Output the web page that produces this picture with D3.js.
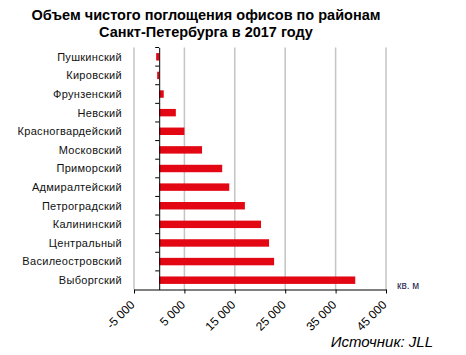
<!DOCTYPE html>
<html><head><meta charset="utf-8">
<script src="https://cdn.jsdelivr.net/npm/d3@7"></script>
<style>body{margin:0;background:#fff;} svg{display:block;font-family:"Liberation Sans",Arial,sans-serif;}</style>
</head><body>
<svg id="c" width="466" height="355"></svg>
<script>
const categories = ["Пушкинский","Кировский","Фрунзенский","Невский","Красногвардейский","Московский","Приморский","Адмиралтейский","Петроградский","Калининский","Центральный","Василеостровский","Выборгский"];
const values = [-600,-400,900,3300,5000,8500,12500,13900,17000,20200,21800,22800,38900];
const tickValues = [-5000,5000,15000,25000,35000,45000];
const titleLines = ["Объем чистого поглощения офисов по районам","Санкт-Петербурга в 2017 году"];
const unitLabel = "кв. м";
const sourceLabel = "Источник: JLL";

const svg = d3.select("#c");
const x = d3.scaleLinear().domain([-5000,45000]).range([134,386]);
const y = d3.scaleBand().domain(categories).range([47.5,289.5]).paddingInner(0.6).paddingOuter(0.3);
const fmt = d => d3.format(",")(d).replace(/,/g," ").replace("−","-");

// gridlines
svg.append("g").selectAll("line").data(tickValues).join("line")
  .attr("x1",d=>x(d)).attr("x2",d=>x(d)).attr("y1",47.5).attr("y2",289.5)
  .attr("stroke","#c4c4c4").attr("stroke-width",1.5);

// bars
svg.append("g").selectAll("rect").data(categories).join("rect")
  .attr("x",(d,i)=>Math.min(x(0),x(values[i])))
  .attr("width",(d,i)=>Math.abs(x(values[i])-x(0)))
  .attr("y",d=>y(d)).attr("height",y.bandwidth())
  .attr("fill","#e30613");

// x axis
const xa = svg.append("g").attr("transform","translate(0,289.5)")
  .call(d3.axisBottom(x).tickValues(tickValues).tickSize(4).tickSizeOuter(0).tickFormat(fmt));
xa.select(".domain").attr("stroke","#000");
xa.selectAll(".tick line").attr("stroke","#000");
xa.selectAll("text").attr("font-size",12).attr("fill","#000")
  .attr("text-anchor","end").attr("dy",null).attr("y",0)
  .attr("transform","translate(1,16) rotate(-45)");

// y axis (category)
const ycat = d3.scaleBand().domain(categories).range([47.5,289.5]);
const ya = svg.append("g").attr("transform",`translate(${x(0)},0)`)
  .call(d3.axisLeft(ycat).tickSize(0).tickSizeOuter(0));
ya.select(".domain").attr("stroke","#000");
ya.selectAll("text").remove();
ya.selectAll(".bnd").data(categories).join("line").attr("class","bnd")
  .attr("x1",-4).attr("x2",0).attr("y1",d=>ycat(d)).attr("y2",d=>ycat(d)).attr("stroke","#000");
// labels
svg.append("g").selectAll("text").data(categories).join("text")
  .attr("x",122).attr("y",d=>y(d)+y.bandwidth()/2).attr("dy","0.35em")
  .attr("text-anchor","end").attr("font-size",11).attr("letter-spacing",0.3).attr("fill","#111")
  .text(d=>d);

// title
svg.append("g").selectAll("text").data(titleLines).join("text")
  .attr("x",206).attr("y",(d,i)=>20+i*17).attr("text-anchor","middle")
  .attr("font-size",14.5).attr("font-weight","bold").attr("fill","#000").text(d=>d);

svg.append("text").attr("x",397).attr("y",289).attr("font-size",10).attr("fill","#1a1a4a").text(unitLabel);
svg.append("text").attr("x",433).attr("y",347).attr("text-anchor","end").attr("font-size",15)
  .attr("font-style","italic").attr("fill","#000").text(sourceLabel);
</script>
</body></html>
